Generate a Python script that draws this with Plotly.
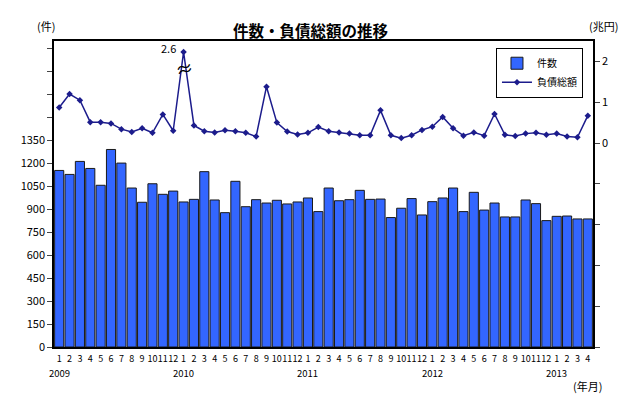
import plotly.graph_objects as go

# monthly bankruptcy counts (件) 2009/1 - 2013/4
month_labels = ["1", "2", "3", "4", "5", "6", "7", "8", "9", "10", "11", "12",
                "1", "2", "3", "4", "5", "6", "7", "8", "9", "10", "11", "12",
                "1", "2", "3", "4", "5", "6", "7", "8", "9", "10", "11", "12",
                "1", "2", "3", "4", "5", "6", "7", "8", "9", "10", "11", "12",
                "1", "2", "3", "4"]
year_labels = {0: "2009", 12: "2010", 24: "2011", 36: "2012", 48: "2013"}

counts = [1154, 1128, 1213, 1167, 1057, 1291, 1202, 1039, 946, 1067, 998, 1019,
          948, 965, 1146, 961, 878, 1083, 917, 963, 941, 959, 935, 948,
          974, 885, 1039, 956, 963, 1024, 965, 967, 846, 907, 970, 863,
          950, 974, 1039, 885, 1011, 895, 941, 850, 850, 961, 937, 826,
          854, 856, 837, 837]

# total liabilities (兆円)
debt = [0.87, 1.20, 1.05, 0.51, 0.51, 0.48, 0.34, 0.27, 0.36, 0.25, 0.70, 0.30,
        2.6, 0.43, 0.29, 0.26, 0.31, 0.29, 0.25, 0.16, 1.38, 0.50, 0.28, 0.21,
        0.25, 0.39, 0.29, 0.26, 0.23, 0.19, 0.19, 0.80, 0.19, 0.12, 0.19, 0.32,
        0.40, 0.64, 0.36, 0.18, 0.26, 0.18, 0.71, 0.20, 0.17, 0.23, 0.25, 0.20,
        0.23, 0.16, 0.14, 0.67]
DEBT_CAP = 2.23  # the 2.6 spike is drawn with an axis break

x = list(range(len(counts)))
debt_shown = [min(v, DEBT_CAP) for v in debt]

FONT = "Noto Sans CJK JP, Liberation Sans, sans-serif"

fig = go.Figure()
fig.add_trace(go.Bar(
    x=x, y=counts, name="件数",
    marker=dict(color="#3366FF", line=dict(color="#1a1a1a", width=1)),
))
fig.add_trace(go.Scatter(
    x=x, y=debt_shown, name="負債総額", yaxis="y2", mode="lines+markers",
    line=dict(color="#1c1c8c", width=1.5),
    marker=dict(symbol="diamond", size=5, color="#1c1c8c"),
))

# value label and break mark for the spike
spike = debt.index(max(debt))
fig.add_annotation(x=spike, y=DEBT_CAP, yref="y2", text=f"{max(debt)}",
                   showarrow=False, xanchor="right", xshift=-6, yshift=4,
                   font=dict(size=11, color="#000"))
fig.add_annotation(x=spike, y=1.84, yref="y2", text="≈", showarrow=False,
                   textangle=-15, font=dict(size=18, color="#000"))

# year labels under January
for i, yr in year_labels.items():
    fig.add_annotation(x=i, xref="x", yref="paper", y=-0.06, text=yr,
                       showarrow=False, yanchor="top", borderpad=0,
                       font=dict(size=9.5))

fig.add_annotation(xref="paper", yref="paper", x=-0.015, y=1.015, text="(件)",
                   showarrow=False, xanchor="center", yanchor="bottom",
                   font=dict(size=11))
fig.add_annotation(xref="paper", yref="paper", x=1.019, y=1.015, text="(兆円)",
                   showarrow=False, xanchor="center", yanchor="bottom",
                   font=dict(size=11))
fig.add_annotation(xref="paper", yref="paper", x=0.99, y=-0.095, text="(年月)",
                   showarrow=False, xanchor="center", yanchor="top",
                   font=dict(size=11))

left_ticks = list(range(0, 2000, 150))
right_ticks = [-5, -4, -3, -2, -1, 0, 1, 2]

fig.update_layout(
    width=640, height=400,
    title=dict(text="<b>件数・負債総額の推移</b>", x=0.485, xanchor="center",
               y=0.922, yanchor="middle", font=dict(size=15.5, color="#000")),
    font=dict(family=FONT, size=10, color="#000"),
    paper_bgcolor="white", plot_bgcolor="white",
    margin=dict(l=54, r=47, t=41, b=53),
    bargap=0.12,
    showlegend=True,
    legend=dict(x=0.82, y=0.978, xanchor="left", yanchor="top",
                bordercolor="#000", borderwidth=1, bgcolor="white",
                font=dict(size=10), traceorder="normal", itemwidth=30),
    xaxis=dict(tickvals=x, ticktext=month_labels, tickangle=0,
               range=[-0.5, len(x) - 0.5], showline=True, linecolor="#000",
               linewidth=1.5, mirror=True, ticks="", showgrid=False,
               ticklabelstandoff=2, tickfont=dict(size=9)),
    yaxis=dict(range=[0, 2000], tickvals=left_ticks,
               ticktext=[str(v) if v <= 1350 else "" for v in left_ticks],
               showline=True, linecolor="#000", linewidth=1.5, ticks="outside",
               ticklen=5, showgrid=False, zeroline=False, tickfont=dict(size=11)),
    yaxis2=dict(range=[-5, 2.5], overlaying="y", side="right",
                tickvals=right_ticks,
                ticktext=[str(v) if v >= 0 else "" for v in right_ticks],
                showline=True, linecolor="#000", linewidth=1.5, ticks="outside",
                ticklen=5, showgrid=False, zeroline=False, tickfont=dict(size=11)),
)

fig.write_html("out.html", config={"displayModeBar": False},
               post_script="document.body.style.margin='0';")
